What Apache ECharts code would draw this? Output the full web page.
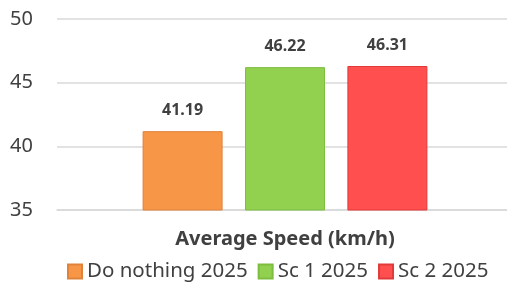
<!DOCTYPE html>
<html><head><meta charset="utf-8">
<script src="https://cdn.jsdelivr.net/npm/echarts@6/dist/echarts.min.js"></script>
<style>html,body{margin:0;padding:0;background:#fff}#c{width:507px;height:284px}</style>
</head><body><div id="c"></div>
<script>
const categories = ['Average Speed (km/h)'];
const seriesNames = ['Do nothing 2025', 'Sc 1 2025', 'Sc 2 2025'];
const doNothing = [41.19];
const sc1 = [46.22];
const sc2 = [46.31];
const yTicks = [35, 40, 45, 50];

const colors = ['#F79646', '#92D050', '#FF4F4F'];
const borders = ['#E0823A', '#7DBE3E', '#E03A3A'];
const values = [doNothing, sc1, sc2];

const chart = echarts.init(document.getElementById('c'), null, {renderer: 'canvas'});
chart.setOption({
  animation: false,
  textStyle: {fontFamily: 'Noto Sans'},
  grid: {left: 57, width: 456, top: 19, height: 191, containLabel: false, outerBoundsMode: 'none'},
  legend: {
    data: seriesNames,
    top: 256, left: 62,
    itemWidth: 14, itemHeight: 14, itemGap: 10,
    icon: 'rect',
    textStyle: {fontSize: 20.5, color: '#404040', fontFamily: 'Noto Sans'}
  },
  xAxis: {
    type: 'category', data: categories,
    axisLine: {lineStyle: {color: '#d9d9d9', width: 1.5}},
    axisTick: {show: false},
    axisLabel: {fontSize: 20, fontWeight: 'bold', color: '#404040', margin: 19}
  },
  yAxis: {
    type: 'value', min: yTicks[0], max: yTicks[yTicks.length - 1], interval: 5,
    axisLine: {show: false}, axisTick: {show: false},
    axisLabel: {fontSize: 20, color: '#404040', margin: 24},
    splitLine: {lineStyle: {color: '#d9d9d9', width: 1.5}}
  },
  series: seriesNames.map((n, i) => ({
    name: n, type: 'bar', data: values[i],
    barWidth: 80, barGap: '28%',
    itemStyle: {color: colors[i], borderColor: borders[i], borderWidth: 1},
    label: {show: true, position: 'top', distance: 13, fontSize: 16, fontWeight: 'bold', color: '#404040',
      formatter: p => p.value.toFixed(2)}
  }))
});
</script></body></html>
